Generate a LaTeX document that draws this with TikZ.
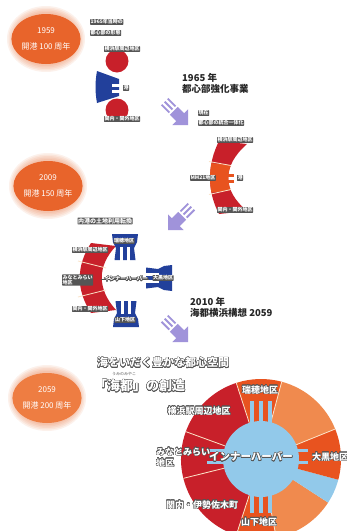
\documentclass[tikz,border=0pt]{standalone}
\usepackage{fontspec}
\setmainfont{Noto Sans CJK JP}
\usepackage{contour}
\contourlength{0.45pt}
\contournumber{16}
\usetikzlibrary{shapes.geometric}
\definecolor{ellor}{HTML}{E8642B}
\definecolor{ellorb}{HTML}{EE7D42}
\definecolor{cred}{HTML}{C8202A}
\definecolor{ored}{HTML}{E8531F}
\definecolor{lor}{HTML}{F08A4E}
\definecolor{hblue}{HTML}{92C9EA}
\definecolor{nblue}{HTML}{22409B}
\definecolor{arrc}{HTML}{A093DA}
\definecolor{labg}{HTML}{555555}
\definecolor{sepc}{HTML}{FBE3C8}
\tikzset{
  tag/.style={fill=labg, text=white, font=\fontsize{5}{5.5}\selectfont\bfseries, inner sep=0.5pt, rounded corners=0.6pt},
  ttl/.style={font=\fontsize{9.5}{11.5}\selectfont\bfseries, text=black!85, align=left, inner sep=0},
  yr/.style={ellipse, fill=ellor, text=white, font=\fontsize{8}{16}\selectfont, align=center, minimum width=62pt, minimum height=50pt, inner sep=0},
  big/.style={text=white, font=\fontsize{9}{11}\selectfont\bfseries, inner sep=0},
  sepw/.style={draw=sepc, line width=0.8pt},
}
\newcommand\stripearrow[3]{%
  \begin{scope}[shift={(#1,#2)},rotate=#3]
    \fill[arrc] (0,0) -- (-11,11) -- (-11,5.5) -- (-20,5.5) -- (-20,-5.5) -- (-11,-5.5) -- (-11,-11) -- cycle;
    \fill[arrc] (-33,3.5) rectangle (-22,5.3);
    \fill[arrc] (-33,-0.9) rectangle (-22,0.9);
    \fill[arrc] (-33,-5.3) rectangle (-22,-3.5);
  \end{scope}}
\newcommand\pierblock[3]{%
  \begin{scope}[shift={(#1,#2)},rotate=#3]
    \fill[nblue] (-13,0) -- (13,0) -- (12,8) -- (9,14) -- (10.5,26) -- (-10.5,26) -- (-9,14) -- (-12,8) -- cycle;
    \fill[white] (-5,13) rectangle (-2.3,26.5);
    \fill[white] (2.3,13) rectangle (5,26.5);
  \end{scope}}
\newcommand\wedgefill[3]{\fill[#1] (261,-459) -- ++(#2:80) arc[start angle=#2, end angle=#3, radius=80] -- cycle;}
\begin{document}
\begin{tikzpicture}[x=1pt,y=1pt]
\useasboundingbox (0,0) rectangle (347,-531);
\fill[white] (0,0) rectangle (347,-531);
\begin{scope}
\clip (0,0) rectangle (347,-531);
% ---- soft glows of the year ellipses
\foreach \cx/\cy in {46/39, 48/186, 47/398} {
  \foreach \d in {8,6.5,5,3.5,2} {
    \fill[ellor, opacity=0.09] (\cx,-\cy) ellipse [x radius=31+\d, y radius=25+\d];
  }
}
\node[yr] (y1959) at (46,-39) {1959\\開港 100 周年};
\node[yr] (y2009) at (48,-186) {2009\\開港 150 周年};
\node[yr, fill=ellorb] (y2059) at (47,-398) {2059\\開港 200 周年};

% ---- 1965 layout
\node[tag, anchor=west] (t1a) at (90,-22) {1965年当時の};
\node[tag, anchor=west] (t1b) at (90,-33) {都心部の形態};
\node[circle, fill=cred, minimum size=23pt, inner sep=0] (yk1) at (117,-61) {};
\node[circle, fill=cred, minimum size=23pt, inner sep=0] (kn1) at (117,-110) {};
\node[tag] (yk1l) at (122,-49) {横浜駅周辺地区};
\node[tag] (kn1l) at (122,-119) {関内・関外地区};
\fill[nblue] (97,-71) -- (119,-79) -- (119,-96) -- (97,-103) .. controls (95,-92) and (95,-82) .. (97,-71) -- cycle;
\fill[white] (112,-83.5) rectangle (120,-86.5);
\fill[white] (112,-89.5) rectangle (120,-92.5);
\node[tag] (port1) at (126,-88) {港};

\stripearrow{188}{-125}{-45}
\node[ttl, anchor=north west] (t2) at (182,-73) {1965 年\\都心部強化事業};

% ---- present
\node[tag, anchor=west] (now1) at (198,-113) {現在};
\node[tag, anchor=west] (now2) at (198,-123) {都心部の統合一体化};
\begin{scope}
\clip (219,-141) -- (247,-144) .. controls (222,-166) and (222,-190) .. (247,-211) -- (219,-214) .. controls (207,-191) and (207,-165) .. (219,-141) -- cycle;
\fill[cred] (195,-130) rectangle (255,-220);
\fill[ored] (200,-162) -- (240,-166) -- (240,-189) -- (200,-194) -- cycle;
\end{scope}
\draw[sepw] (209,-161.5) -- (231,-165.5);
\draw[sepw] (209,-194.5) -- (231,-189.5);
\fill[ored] (226,-174) rectangle (234,-176.5);
\fill[ored] (226,-180) rectangle (234,-182.5);
\node[tag] (yk2l) at (235,-140) {横浜駅周辺地区};
\node[tag] (mm2l) at (203,-178) {MM21地区};
\node[tag] (port2) at (240,-178) {港};
\node[tag] (kn2l) at (235,-210) {関内・関外地区};

\stripearrow{168}{-230}{-135}

% ---- 2009
\node[tag, font=\fontsize{6}{6}\selectfont\bfseries] (inner3) at (105,-221) {内港の土地利用転換};
\fill[cred] (91,-243) -- (116,-246) .. controls (97,-266) and (97,-289) .. (116,-310) -- (91,-313) .. controls (76,-290) and (76,-266) .. (91,-243) -- cycle;
\draw[sepw] (78,-261) -- (106,-268);
\draw[sepw] (78,-297) -- (106,-290);
\pierblock{125}{-234}{180}
\pierblock{172}{-278}{90}
\pierblock{126}{-327}{0}
\coordinate (ihL) at (101,-279);
\coordinate (ihR) at (149,-279);
\draw[labg, line width=0.5pt] (ihL) -- (ihR);
\node[tag] (yk3l) at (90,-250) {横浜駅周辺地区};
\node[tag, anchor=west, align=left] (mm3l) at (62,-280) {みなとみらい\\地区};
\node[tag] (kn3l) at (90,-309) {関内・関外地区};
\node[text=white, font=\fontsize{5.5}{6}\selectfont\bfseries, inner sep=0] (ih3) at (126,-279) {\contour{labg}{インナーハーバー}};
\node[tag] (mz3l) at (124,-241) {瑞穂地区};
\node[tag] (dk3l) at (163,-278) {大黒地区};
\node[tag] (ys3l) at (125,-320) {山下地区};

\node[ttl, anchor=north west] (t3) at (190,-297) {2010 年\\海都横浜構想 2059};
\stripearrow{188}{-342}{-45}

% ---- 2059
\node[anchor=west, text=white, font=\fontsize{11}{11}\selectfont\bfseries, inner sep=0] (tt1) at (97,-363) {\contour{labg}{海をいだく豊かな都心空間}};
\node[text=labg, font=\fontsize{4}{4}\selectfont, inner sep=0] (ruby) at (124,-373.5) {うみのみやこ};
\node[anchor=west, text=white, font=\fontsize{13}{13}\selectfont\bfseries, inner sep=0] (tt2) at (94,-386) {\contour{labg}{「海都」の創造}};

\wedgefill{ored}{75}{108}
\wedgefill{cred}{108}{252}
\wedgefill{ored}{252}{281}
\wedgefill{lor}{281}{327}
\wedgefill{hblue}{327}{345}
\wedgefill{ored}{345}{382}
\wedgefill{lor}{22}{75}
\foreach \a in {22,75,108,160,194,252,281} \draw[sepw] (261,-459) ++(\a:38) -- ++(\a:42);
\fill[hblue] (261,-459) circle (38);
\foreach \xc in {252,261,270} {
  \fill[hblue] (\xc-2,-430) rectangle (\xc+2,-401);
  \fill[hblue] (\xc-2,-488) rectangle (\xc+2,-513);
}
\fill[hblue] (207,-449) rectangle (226,-452);
\fill[hblue] (207,-461) rectangle (226,-464);
\fill[hblue] (296,-449) rectangle (308,-452);
\fill[hblue] (296,-461) rectangle (308,-464);

\node[big] (mz4) at (260,-390) {\contour{labg}{瑞穂地区}};
\node[big] (yk4) at (199,-411) {\contour{labg}{横浜駅周辺地区}};
\node[big, anchor=west, align=left] (mm4) at (156,-457.5) {\contour{labg}{みなとみらい}\\\contour{labg}{地区}};
\node[big, font=\fontsize{10.5}{11}\selectfont\bfseries] (ih4) at (251,-457) {\contour{labg}{インナーハーバー}};
\node[big] (dk4) at (330,-457) {\contour{labg}{大黒地区}};
\node[big] (ks4) at (202,-505) {\contour{labg}{関内・伊勢佐木町}};
\node[big] (ys4) at (259,-522) {\contour{labg}{山下地区}};
\end{scope}
\end{tikzpicture}
\end{document}
